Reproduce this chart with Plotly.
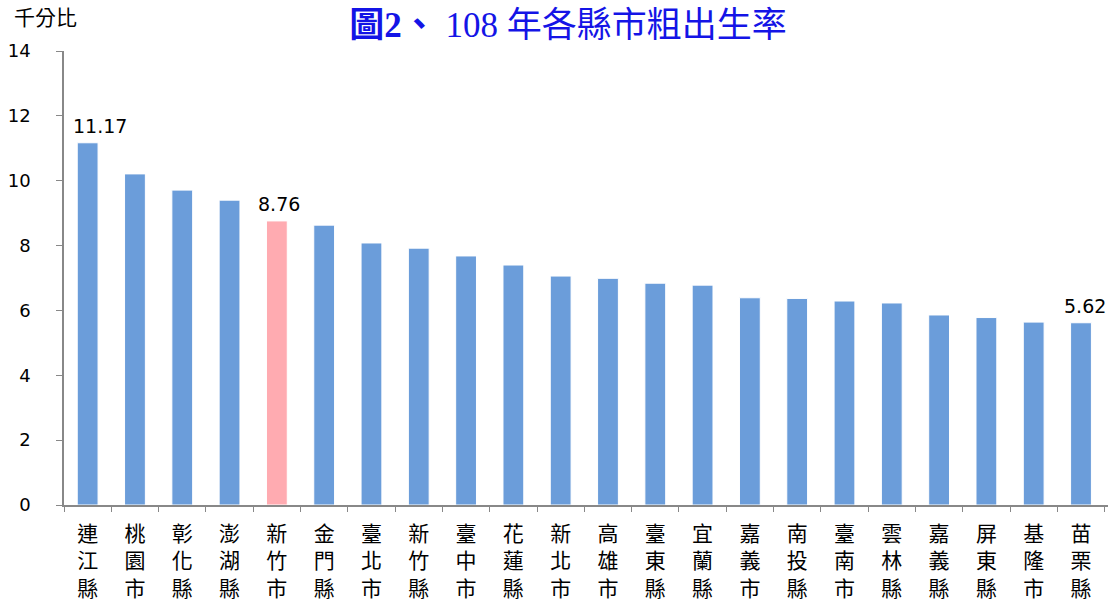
import plotly.graph_objects as go

categories = ["連江縣", "桃園市", "彰化縣", "澎湖縣", "新竹市", "金門縣", "臺北市", "新竹縣",
              "臺中市", "花蓮縣", "新北市", "高雄市", "臺東縣", "宜蘭縣", "嘉義市", "南投縣",
              "臺南市", "雲林縣", "嘉義縣", "屏東縣", "基隆市", "苗栗縣"]
values = [11.17, 10.21, 9.71, 9.40, 8.76, 8.63, 8.08, 7.92, 7.68, 7.40, 7.06,
          6.99, 6.84, 6.78, 6.39, 6.37, 6.29, 6.23, 5.86, 5.78, 5.64, 5.62]
labeled = ["連江縣", "新竹市", "苗栗縣"]
highlight = "新竹市"
y_ticks = [0, 2, 4, 6, 8, 10, 12, 14]

label_xshift = {"連江縣": 12, "新竹市": 2, "苗栗縣": 4}

colors = ["#FFABB1" if c == highlight else "#6B9DDA" for c in categories]
tick_text = ["<br>".join(list(c)) for c in categories]

fig = go.Figure()
fig.add_trace(go.Bar(
    x=categories, y=values,
    marker=dict(color=colors, line=dict(color="#FFFFFF", width=1)),
    hoverinfo="x+y",
))

annotations = [dict(
    text="千分比", xref="paper", yref="paper", x=-0.05, y=1.077,
    xanchor="left", yanchor="middle", showarrow=False,
    font=dict(family="Noto Sans CJK TC", size=21, color="#000000"),
)]
for c, v in zip(categories, values):
    if c in labeled:
        annotations.append(dict(
            x=c, y=v, xref="x", yref="y", text=f"{v:.2f}", showarrow=False,
            yanchor="bottom", yshift=4, xshift=label_xshift[c],
            font=dict(family="DejaVu Sans", size=19, color="#000000"),
        ))

fig.update_layout(
    width=1116, height=603,
    margin=dict(l=64, r=8, t=51, b=98, autoexpand=False),
    paper_bgcolor="white", plot_bgcolor="white",
    bargap=0.56,
    showlegend=False,
    title=dict(
        text="<b>圖2、</b> 108 年各縣市粗出生率",
        x=0.509, xanchor="center", y=0.959, yanchor="middle",
        font=dict(family="Liberation Serif, Noto Sans CJK TC", size=35, color="#1414E6"),
    ),
    annotations=annotations,
)

fig.update_xaxes(
    tickmode="array", tickvals=categories, ticktext=tick_text,
    tickson="boundaries", ticks="outside", ticklen=5, tickcolor="#888888",
    showline=True, linecolor="#888888", linewidth=1.5,
    tickfont=dict(family="Noto Sans CJK TC", size=21, color="#000000"),
    showgrid=False, ticklabelstandoff=9, automargin=False,
)
fig.update_yaxes(
    range=[0, 14], tickvals=y_ticks,
    ticks="outside", ticklen=6, tickcolor="#888888",
    showline=True, linecolor="#888888", linewidth=1.5,
    tickfont=dict(family="DejaVu Sans", size=18, color="#000000"),
    showgrid=False, zeroline=False, ticklabelstandoff=22, automargin=False,
)

fig.write_html("out.html", config={"displayModeBar": False},
               post_script="document.body.style.margin='0';")
